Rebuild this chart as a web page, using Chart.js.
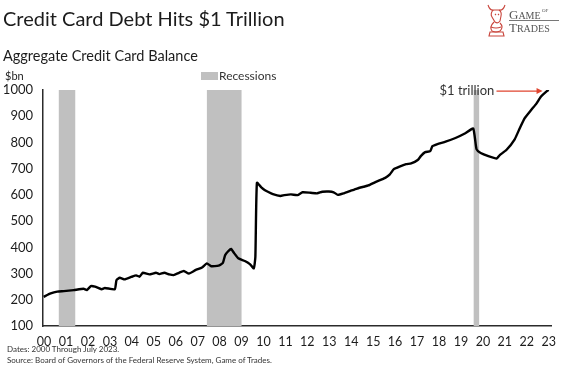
<!DOCTYPE html>
<html>
<head>
<meta charset="utf-8">
<script src="https://cdn.jsdelivr.net/npm/chart.js@4.4.0/dist/chart.umd.min.js"></script>
<style>
    body { margin: 0; background: #fff; }
    #wrap { position: relative; width: 564px; height: 376px; font-family: Lato, "Open Sans", sans-serif; color: #1c1c1c; overflow: hidden; }
    #chart { position: absolute; left: 0; top: 0; }
    .txt { position: absolute; white-space: nowrap; line-height: 1; }
    .swatch { position: absolute; left: 201px; top: 72px; width: 17px; height: 8px; background: #c0c0c0; }
</style>
</head>
<body>
<div id="wrap">
    <canvas id="chart" width="564" height="376"></canvas>
    <div class="txt" style="left:3px;top:8px;font-size:20px;">Credit Card Debt Hits $1 Trillion</div>
    <div class="txt" style="left:3px;top:49px;font-size:14.5px;">Aggregate Credit Card Balance</div>
    <div class="txt" style="left:5px;top:70px;font-size:11px;">$bn</div>
    <div class="swatch"></div>
    <div class="txt" style="left:219px;top:70px;font-size:12px;color:#333;">Recessions</div>
    <div class="txt" style="left:7px;top:345px;font-size:8px;color:#333;">Dates: 2000 Through July 2023.</div>
    <div class="txt" style="left:7px;top:356px;font-size:8px;color:#333;">Source: Board of Governors of the Federal Reserve System, Game of Trades.</div>
    <svg style="position:absolute;left:486px;top:3px" width="22" height="36" viewBox="0 0 22 36">
        <g fill="none" stroke="#c9463d" stroke-width="1.1">
            <path d="M2 2 Q4 8 8 7 L13 7 Q17 8 19 2"/>
            <path d="M7 7 Q4 11 6 14 L9 19 Q12 21 14 18 L15 13 Q16 9 13 7"/>
            <path d="M8 19 Q3 24 6 28 Q10 30 14 28 Q18 24 14 20"/>
            <path d="M4 29 L17 29 L18 33 L3 33 Z"/>
            <path d="M5 24 Q10 26 15 24"/>
            <path d="M9 11 L10 12 M12 11 L13 12"/>
        </g>
    </svg>
    <div class="txt" style="left:509px;top:8px;font-family:'Liberation Serif',serif;font-size:13px;color:#555;">G<span style="font-size:10px">AME</span><span style="font-size:5px;vertical-align:top"> OF</span></div>
    <div style="position:absolute;left:509px;top:20px;width:50px;height:1px;background:#777;"></div>
    <div class="txt" style="left:509px;top:21px;font-family:'Liberation Serif',serif;font-size:13px;color:#555;">T<span style="font-size:10px">RADES</span></div>
</div>
<script>
// quarterly-ish readings, $bn
const dates = [
    2000.48, 2000.8, 2001.1, 2001.4, 2001.85, 2002.3, 2002.45, 2002.63, 2002.82, 2003.12,
    2003.27, 2003.72, 2003.8, 2003.95, 2004.17, 2004.47, 2004.7, 2004.85, 2005.0, 2005.3,
    2005.6, 2005.75, 2005.98, 2006.2, 2006.4, 2006.65, 2006.87, 2007.1, 2007.4, 2007.7,
    2007.92, 2008.12, 2008.45, 2008.65, 2008.75, 2008.9, 2009.02, 2009.17, 2009.35, 2009.65,
    2009.88, 2010.06, 2010.13, 2010.2, 2010.4, 2010.55, 2010.7, 2010.93, 2011.27, 2011.45,
    2011.75, 2012.05, 2012.28, 2012.65, 2012.95, 2013.18, 2013.48, 2013.7, 2013.89, 2014.16,
    2014.46, 2014.76, 2015.06, 2015.28, 2015.6, 2016.05, 2016.26, 2016.44, 2016.7, 2017.0,
    2017.23, 2017.53, 2017.68, 2017.87, 2018.1, 2018.2, 2018.43, 2018.8, 2019.25, 2019.7,
    2020.06, 2020.21, 2020.4, 2020.75, 2021.13, 2021.27, 2021.57, 2021.95, 2022.18, 2022.4,
    2022.7, 2022.93, 2023.15, 2023.39, 2023.5
];
const balance = [
    211, 224, 231, 233, 237, 242, 237, 252, 250, 240,
    245, 240, 275, 284, 278, 287, 293, 288, 303, 297,
    303, 298, 303, 297, 294, 303, 310, 300, 313, 323,
    339, 328, 330, 341, 370, 386, 394, 377, 358, 348,
    336, 320, 364, 646, 629, 619, 612, 603, 596, 599,
    602, 599, 610, 608, 606, 612, 613, 610, 600, 606,
    615, 624, 631, 636, 649, 665, 678, 698, 708, 717,
    720, 733, 749, 763, 767, 786, 794, 803, 817, 835,
    853, 774, 760, 748, 739, 752, 771, 812, 854, 892,
    924, 947, 975, 994, 1000
];
const recessions = [[2001.17, 2001.92], [2007.92, 2009.5], [2020.08, 2020.33]];
const years = ['00','01','02','03','04','05','06','07','08','09','10','11','12','13','14','15','16','17','18','19','20','21','22','23'];
const yTicks = [100, 200, 300, 400, 500, 600, 700, 800, 900, 1000];

const points = dates.map((d, i) => ({ x: d, y: balance[i] }));

//grey recession bands behind the line
const recessionBands = {
    id: 'recessionBands',
    beforeDatasetsDraw(chart) {
        const { ctx, chartArea, scales: { x } } = chart;
        ctx.save();
        ctx.fillStyle = '#c0c0c0';
        recessions.forEach(([a, b]) => {
            const x1 = x.getPixelForValue(a), x2 = x.getPixelForValue(b);
            ctx.fillRect(x1, chartArea.top, x2 - x1, chartArea.bottom - chartArea.top);
        });
        ctx.restore();
    }
};

//"$1 trillion" label + red arrow
const trillionNote = {
    id: 'trillionNote',
    afterDatasetsDraw(chart) {
        const { ctx, scales: { x, y } } = chart;
        const yy = y.getPixelForValue(996);
        const tx = x.getPixelForValue(2021.02);
        const ax1 = x.getPixelForValue(2021.12), ax2 = x.getPixelForValue(2023.22);
        ctx.save();
        ctx.font = '13px Lato';
        ctx.fillStyle = '#333';
        ctx.textAlign = 'right';
        ctx.textBaseline = 'middle';
        ctx.fillText('$1 trillion', tx, yy);
        ctx.strokeStyle = '#e0452f';
        ctx.fillStyle = '#e0452f';
        ctx.lineWidth = 1.3;
        ctx.beginPath();
        ctx.moveTo(ax1, yy);
        ctx.lineTo(ax2 - 5, yy);
        ctx.stroke();
        ctx.beginPath();
        ctx.moveTo(ax2, yy);
        ctx.lineTo(ax2 - 6, yy - 3);
        ctx.lineTo(ax2 - 6, yy + 3);
        ctx.closePath();
        ctx.fill();
        ctx.restore();
    }
};

new Chart(document.getElementById('chart'), {
    type: 'line',
    data: {
        datasets: [{
            data: points,
            borderColor: '#000',
            borderWidth: 2.4,
            pointRadius: 0,
            tension: 0.15,
        }]
    },
    options: {
        responsive: false,
        animation: false,
        layout: { padding: { left: 0, top: 90, right: 10, bottom: 0 } },
        plugins: {
            legend: { display: false },
            tooltip: { enabled: false },
        },
        scales: {
            x: {
                type: 'linear',
                min: 2000.45,
                max: 2023.62,
                grid: { display: false, drawTicks: false },
                border: { display: true, color: '#2b2b2b', width: 1.5 },
                afterBuildTicks: (scale) => {
                    scale.ticks = years.map((_, i) => ({ value: 2000.5 + i }));
                },
                afterFit: (scale) => { scale.height = 50; },
                ticks: {
                    autoSkip: false,
                    maxRotation: 0,
                    padding: 8,
                    color: '#1c1c1c',
                    font: { family: 'Lato', size: 12.5 },
                    callback: (value) => years[Math.round(value - 2000.5)],
                },
            },
            y: {
                min: 100,
                max: 1000,
                grid: { display: false, drawTicks: false },
                border: { display: true, color: '#2b2b2b', width: 1.5 },
                afterBuildTicks: (scale) => {
                    scale.ticks = yTicks.map(v => ({ value: v }));
                },
                afterFit: (scale) => { scale.width = 43; },
                ticks: {
                    padding: 10,
                    color: '#1c1c1c',
                    font: { family: 'Lato', size: 13 },
                    callback: (value) => String(value),
                },
            },
        },
    },
    plugins: [recessionBands, trillionNote],
});
</script>
</body>
</html>
